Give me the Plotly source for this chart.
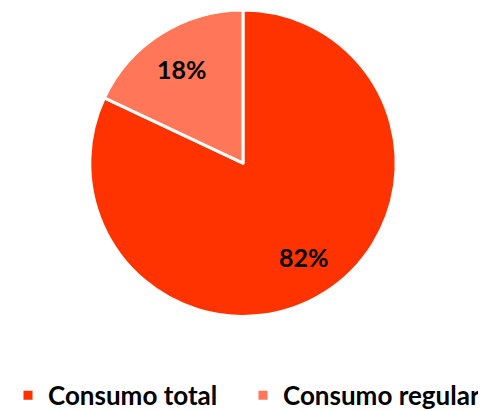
import math
import plotly.graph_objects as go

labels = ["Consumo total", "Consumo regular"]
values = [82, 18]
colors = ["#FF3300", "#FF7658"]

W, H = 488, 411
dom_x = [0.162, 0.801]
dom_y = [0.231, 0.995]

fig = go.Figure(go.Pie(
    labels=labels,
    values=values,
    sort=False,
    direction="clockwise",
    rotation=0,
    marker=dict(colors=colors, line=dict(color="white", width=3)),
    textinfo="none",
    hoverinfo="label+percent",
    domain=dict(x=dom_x, y=dom_y),
))

# percentage labels placed along each slice's bisector
cx = (dom_x[0] + dom_x[1]) / 2 * W
cy = (dom_y[0] + dom_y[1]) / 2 * H
r = min((dom_x[1] - dom_x[0]) * W, (dom_y[1] - dom_y[0]) * H) / 2
total = sum(values)
start = 0.0
for v in values:
    mid = (start + v / 2) / total * 2 * math.pi
    start += v
    px = cx + 0.73 * r * math.sin(mid)
    py = cy + 0.73 * r * math.cos(mid)
    fig.add_annotation(
        x=px / W, y=py / H, xref="paper", yref="paper",
        text=f"{round(100 * v / total)}%", showarrow=False,
        font=dict(family="Lato", size=25, color="black", weight="bold"),
        xanchor="center", yanchor="middle",
    )

fig.update_layout(
    width=W, height=H,
    margin=dict(l=0, r=0, t=0, b=0),
    paper_bgcolor="white",
    plot_bgcolor="white",
    showlegend=True,
    legend=dict(orientation="h", x=0, xanchor="left", y=0.034, yanchor="middle",
                font=dict(family="Lato", size=26, color="black", weight="bold"),
                traceorder="normal", entrywidth=190),
)

fig.write_html("out.html")
